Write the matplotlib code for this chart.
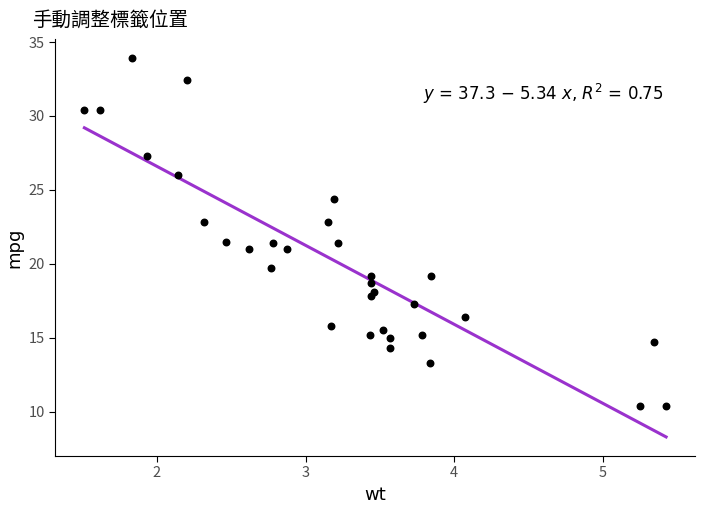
import numpy as np
import matplotlib.pyplot as plt

plt.rcParams['font.family'] = ['Noto Sans CJK TC', 'DejaVu Sans']

wt = [2.620, 2.875, 2.320, 3.215, 3.440, 3.460, 3.570, 3.190, 3.150, 3.440, 3.440,
      4.070, 3.730, 3.780, 5.250, 5.424, 5.345, 2.200, 1.615, 1.835, 2.465, 3.520,
      3.435, 3.840, 3.845, 1.935, 2.140, 1.513, 3.170, 2.770, 3.570, 2.780]
mpg = [21.0, 21.0, 22.8, 21.4, 18.7, 18.1, 14.3, 24.4, 22.8, 19.2, 17.8,
       16.4, 17.3, 15.2, 10.4, 10.4, 14.7, 32.4, 30.4, 33.9, 21.5, 15.5,
       15.2, 13.3, 19.2, 27.3, 26.0, 30.4, 15.8, 19.7, 15.0, 21.4]

x = np.array(wt)
y = np.array(mpg)
slope, icpt = np.polyfit(x, y, 1)
r2 = np.corrcoef(x, y)[0, 1] ** 2

fig = plt.figure(figsize=(7.08, 5.11), dpi=100)
ax = fig.add_axes([0.078, 0.108, 0.904, 0.815])

xs = np.array([x.min(), x.max()])
ax.plot(xs, icpt + slope * xs, color='#9A32CD', lw=2.2, zorder=1)
ax.scatter(x, y, s=22, color='black', zorder=2)

ax.set_xlim(1.317, 5.62)
ax.set_ylim(7.02, 35.18)
ax.set_xticks([2, 3, 4, 5])
ax.set_yticks([10, 15, 20, 25, 30, 35])
for s in ['top', 'right']:
    ax.spines[s].set_visible(False)
ax.tick_params(axis='both', colors='black', labelcolor='#4D4D4D', labelsize=10.5, length=4)
ax.set_xlabel('wt', fontsize=13, family='DejaVu Sans')
ax.set_ylabel('mpg', fontsize=13, family='DejaVu Sans')

ax.text(0.95, 0.87,
        r'$y$ = %.1f $-$ %.2f $x$, $R^2$ = %.2f' % (icpt, -slope, r2),
        transform=ax.transAxes, ha='right', va='center', fontsize=12,
        family='DejaVu Sans')
fig.text(0.045, 0.96, '手動調整標籤位置', fontsize=14, ha='left', va='center')

fig.savefig('out.png', dpi=100)
